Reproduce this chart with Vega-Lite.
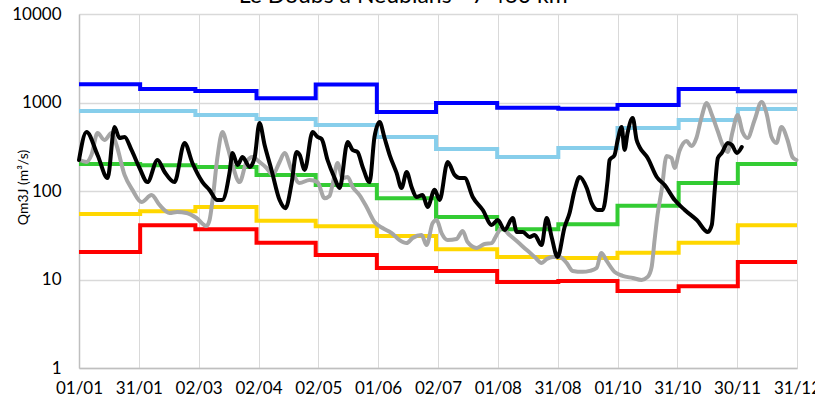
{
  "$schema": "https://vega.github.io/schema/vega-lite/v6.json",
  "width": 718,
  "height": 354,
  "autosize": {"type": "none"},
  "padding": {"left": 79, "top": 14, "right": 18, "bottom": 33},
  "background": "white",
  "title": {"text": "Le Doubs à Neublans - 7 460 km²", "font": "Lato", "fontSize": 23, "fontWeight": "normal", "color": "#000000", "anchor": "middle", "frame": "group", "offset": -21, "baseline": "alphabetic", "dx": -31},
  "config": {"view": {"stroke": null}},
  "datasets": {
    "steps": [
      {"series": "max", "day": 0, "q": 1610}, {"series": "max", "day": 31, "q": 1420}, {"series": "max", "day": 59, "q": 1350}, {"series": "max", "day": 90, "q": 1120}, {"series": "max", "day": 120, "q": 1600}, {"series": "max", "day": 151, "q": 780}, {"series": "max", "day": 181, "q": 990}, {"series": "max", "day": 212, "q": 870}, {"series": "max", "day": 243, "q": 850}, {"series": "max", "day": 273, "q": 940}, {"series": "max", "day": 304, "q": 1420}, {"series": "max", "day": 334, "q": 1340}, {"series": "max", "day": 364, "q": 1340},
      {"series": "q90", "day": 0, "q": 800}, {"series": "q90", "day": 31, "q": 800}, {"series": "q90", "day": 59, "q": 722}, {"series": "q90", "day": 90, "q": 651}, {"series": "q90", "day": 120, "q": 557}, {"series": "q90", "day": 151, "q": 408}, {"series": "q90", "day": 181, "q": 298}, {"series": "q90", "day": 212, "q": 242}, {"series": "q90", "day": 243, "q": 306}, {"series": "q90", "day": 273, "q": 515}, {"series": "q90", "day": 304, "q": 634}, {"series": "q90", "day": 334, "q": 845}, {"series": "q90", "day": 364, "q": 845},
      {"series": "med", "day": 0, "q": 202}, {"series": "med", "day": 31, "q": 196}, {"series": "med", "day": 59, "q": 187}, {"series": "med", "day": 90, "q": 152}, {"series": "med", "day": 120, "q": 117}, {"series": "med", "day": 151, "q": 83}, {"series": "med", "day": 181, "q": 51}, {"series": "med", "day": 212, "q": 37}, {"series": "med", "day": 243, "q": 42}, {"series": "med", "day": 273, "q": 68}, {"series": "med", "day": 304, "q": 123}, {"series": "med", "day": 334, "q": 202}, {"series": "med", "day": 364, "q": 202},
      {"series": "q10", "day": 0, "q": 55}, {"series": "q10", "day": 31, "q": 59}, {"series": "q10", "day": 59, "q": 66}, {"series": "q10", "day": 90, "q": 46}, {"series": "q10", "day": 120, "q": 40}, {"series": "q10", "day": 151, "q": 31}, {"series": "q10", "day": 181, "q": 22}, {"series": "q10", "day": 212, "q": 18}, {"series": "q10", "day": 243, "q": 17.5}, {"series": "q10", "day": 273, "q": 20}, {"series": "q10", "day": 304, "q": 26}, {"series": "q10", "day": 334, "q": 41}, {"series": "q10", "day": 364, "q": 41},
      {"series": "min", "day": 0, "q": 20.5}, {"series": "min", "day": 31, "q": 41}, {"series": "min", "day": 59, "q": 37}, {"series": "min", "day": 90, "q": 26}, {"series": "min", "day": 120, "q": 18.9}, {"series": "min", "day": 151, "q": 13.5}, {"series": "min", "day": 181, "q": 12.5}, {"series": "min", "day": 212, "q": 9.4}, {"series": "min", "day": 243, "q": 9.6}, {"series": "min", "day": 273, "q": 7.4}, {"series": "min", "day": 304, "q": 8.4}, {"series": "min", "day": 334, "q": 15.8}, {"series": "min", "day": 364, "q": 15.8}
    ],
    "gray": [
      {"day": 0.3, "q": 224}, {"day": 3.8, "q": 213}, {"day": 6.3, "q": 255}, {"day": 9.4, "q": 452}, {"day": 12.9, "q": 377}, {"day": 16.5, "q": 452}, {"day": 19, "q": 331}, {"day": 23.1, "q": 152}, {"day": 27.1, "q": 103}, {"day": 31.7, "q": 75}, {"day": 36.8, "q": 90}, {"day": 40.8, "q": 69.5}, {"day": 45.9, "q": 56.4}, {"day": 49.8, "q": 57.9}, {"day": 54.5, "q": 56.4}, {"day": 59.6, "q": 49.5}, {"day": 64.6, "q": 40.2}, {"day": 66.2, "q": 47}, {"day": 67.7, "q": 79}, {"day": 70.2, "q": 242}, {"day": 72.7, "q": 464}, {"day": 75.3, "q": 314}, {"day": 77.8, "q": 197}, {"day": 81.4, "q": 126}, {"day": 84.9, "q": 213}, {"day": 88, "q": 242}, {"day": 91.5, "q": 213}, {"day": 95.1, "q": 182}, {"day": 98.1, "q": 152}, {"day": 101.7, "q": 213}, {"day": 104.2, "q": 269}, {"day": 107.8, "q": 173}, {"day": 111.8, "q": 123}, {"day": 116.9, "q": 133}, {"day": 120.9, "q": 126}, {"day": 124.5, "q": 83}, {"day": 127, "q": 88}, {"day": 128.5, "q": 117}, {"day": 131.1, "q": 207}, {"day": 133.6, "q": 140}, {"day": 136.2, "q": 144}, {"day": 138.7, "q": 111}, {"day": 142.2, "q": 90}, {"day": 145.8, "q": 66}, {"day": 149.8, "q": 44.6}, {"day": 153.9, "q": 38.2}, {"day": 158.5, "q": 33.5}, {"day": 162.5, "q": 27.9}, {"day": 166.1, "q": 25.8}, {"day": 169.1, "q": 29.4}, {"day": 173.7, "q": 31.8}, {"day": 176.2, "q": 24.5}, {"day": 179.3, "q": 43.5}, {"day": 181.3, "q": 47}, {"day": 183.8, "q": 33.5}, {"day": 186.9, "q": 27.9}, {"day": 191.4, "q": 28.7}, {"day": 194.5, "q": 35.3}, {"day": 197, "q": 26.5}, {"day": 201.6, "q": 22.7}, {"day": 205.6, "q": 25.2}, {"day": 209.2, "q": 25.8}, {"day": 211.7, "q": 31.8}, {"day": 214.3, "q": 38.2}, {"day": 218.3, "q": 31.8}, {"day": 221.9, "q": 27.2}, {"day": 227, "q": 21.5}, {"day": 231, "q": 18}, {"day": 234.5, "q": 15.4}, {"day": 237.1, "q": 17}, {"day": 240.1, "q": 18}, {"day": 243.7, "q": 18}, {"day": 247.2, "q": 15.4}, {"day": 250.3, "q": 12.5}, {"day": 255.3, "q": 12.2}, {"day": 258.9, "q": 12.5}, {"day": 262.4, "q": 13.5}, {"day": 264.8, "q": 19.9}, {"day": 267.5, "q": 16.2}, {"day": 271.5, "q": 12.2}, {"day": 275.6, "q": 11}, {"day": 280.7, "q": 10.4}, {"day": 285.2, "q": 9.9}, {"day": 288.3, "q": 10.7}, {"day": 290.3, "q": 13.8}, {"day": 291.8, "q": 27.9}, {"day": 293.3, "q": 53.6}, {"day": 295.4, "q": 103}, {"day": 297.9, "q": 249}, {"day": 300.4, "q": 236}, {"day": 301.9, "q": 182}, {"day": 304.4, "q": 283}, {"day": 308, "q": 367}, {"day": 310.5, "q": 322}, {"day": 313, "q": 397}, {"day": 315.5, "q": 668}, {"day": 318.2, "q": 987}, {"day": 320.7, "q": 741}, {"day": 323.8, "q": 476}, {"day": 326.3, "q": 331}, {"day": 328.8, "q": 276}, {"day": 331.3, "q": 464}, {"day": 333.9, "q": 722}, {"day": 336.4, "q": 464}, {"day": 338.9, "q": 397}, {"day": 342.5, "q": 634}, {"day": 346, "q": 1013}, {"day": 348.5, "q": 761}, {"day": 351.1, "q": 408}, {"day": 353.6, "q": 349}, {"day": 356.1, "q": 529}, {"day": 359.2, "q": 377}, {"day": 361.7, "q": 242}, {"day": 363.7, "q": 224}
    ],
    "black": [
      {"day": 0, "q": 224}, {"day": 3.8, "q": 464}, {"day": 9.4, "q": 255}, {"day": 14.5, "q": 140}, {"day": 18, "q": 529}, {"day": 20.5, "q": 397}, {"day": 23.1, "q": 408}, {"day": 26.6, "q": 291}, {"day": 30.7, "q": 182}, {"day": 34.7, "q": 126}, {"day": 39.8, "q": 224}, {"day": 43.4, "q": 164}, {"day": 48.4, "q": 126}, {"day": 53.5, "q": 349}, {"day": 57.5, "q": 207}, {"day": 62.6, "q": 126}, {"day": 66.1, "q": 103}, {"day": 70.1, "q": 79}, {"day": 72.6, "q": 79}, {"day": 76.3, "q": 160}, {"day": 77.8, "q": 269}, {"day": 80.4, "q": 197}, {"day": 82.9, "q": 242}, {"day": 86.5, "q": 187}, {"day": 89, "q": 236}, {"day": 91.5, "q": 587}, {"day": 94.1, "q": 331}, {"day": 97.6, "q": 173}, {"day": 101.7, "q": 79}, {"day": 104.7, "q": 64}, {"day": 107.8, "q": 123}, {"day": 110.3, "q": 276}, {"day": 111.9, "q": 255}, {"day": 114.4, "q": 173}, {"day": 118.4, "q": 464}, {"day": 120.9, "q": 408}, {"day": 123, "q": 387}, {"day": 126, "q": 224}, {"day": 129.6, "q": 140}, {"day": 132.1, "q": 108}, {"day": 136.2, "q": 358}, {"day": 138.7, "q": 291}, {"day": 141.2, "q": 276}, {"day": 143.8, "q": 187}, {"day": 147.3, "q": 126}, {"day": 149.8, "q": 408}, {"day": 152.4, "q": 602}, {"day": 154.9, "q": 397}, {"day": 157.5, "q": 255}, {"day": 161, "q": 160}, {"day": 163.5, "q": 108}, {"day": 166.1, "q": 164}, {"day": 168.6, "q": 111}, {"day": 171.1, "q": 85.5}, {"day": 174.2, "q": 90}, {"day": 176.7, "q": 66}, {"day": 180.3, "q": 103}, {"day": 182.8, "q": 79}, {"day": 186.9, "q": 213}, {"day": 190.4, "q": 152}, {"day": 193, "q": 140}, {"day": 195.5, "q": 140}, {"day": 199.6, "q": 85.5}, {"day": 204.7, "q": 61}, {"day": 209.2, "q": 41.3}, {"day": 212.3, "q": 47}, {"day": 215.8, "q": 36.2}, {"day": 219.9, "q": 49.5}, {"day": 221.9, "q": 34.4}, {"day": 225, "q": 34.4}, {"day": 228.4, "q": 30.2}, {"day": 231, "q": 31.8}, {"day": 234.5, "q": 24.5}, {"day": 237.1, "q": 49.5}, {"day": 239.6, "q": 30.2}, {"day": 242.6, "q": 18}, {"day": 246.2, "q": 39.2}, {"day": 248.7, "q": 56.4}, {"day": 251.3, "q": 103}, {"day": 253.8, "q": 144}, {"day": 257.4, "q": 108}, {"day": 259.9, "q": 73}, {"day": 262.9, "q": 61}, {"day": 265.5, "q": 61}, {"day": 268, "q": 133}, {"day": 269, "q": 224}, {"day": 271.5, "q": 255}, {"day": 273.1, "q": 377}, {"day": 275.1, "q": 529}, {"day": 276.6, "q": 291}, {"day": 278.1, "q": 452}, {"day": 280.7, "q": 668}, {"day": 282.7, "q": 377}, {"day": 284.2, "q": 314}, {"day": 288.3, "q": 236}, {"day": 292.9, "q": 144}, {"day": 296.9, "q": 117}, {"day": 302, "q": 79}, {"day": 307.1, "q": 61}, {"day": 313.2, "q": 47}, {"day": 318.8, "q": 34.4}, {"day": 320.8, "q": 41.3}, {"day": 322.3, "q": 103}, {"day": 323.9, "q": 236}, {"day": 325.9, "q": 269}, {"day": 328.9, "q": 349}, {"day": 331, "q": 331}, {"day": 333.5, "q": 269}, {"day": 336, "q": 314}
    ]
  },
  "encoding": {
    "x": {
      "field": "day", "type": "quantitative",
      "scale": {"domain": [0, 364], "nice": false, "zero": false},
      "axis": {
        "values": [0, 30.333, 60.667, 91, 121.333, 151.667, 182, 212.333, 242.667, 273, 303.333, 333.667, 364],
        "labelExpr": "timeFormat(datetime(2023, 0, 1 + floor(datum.value)), '%d/%m')",
        "grid": true, "gridColor": "#d9d9d9", "gridWidth": 1,
        "ticks": false, "domainColor": "#bfbfbf", "domainWidth": 1.5,
        "labelFont": "Lato", "labelFontSize": 17, "labelColor": "#000000", "labelPadding": 12,
        "labelFlush": false, "labelOverlap": false, "labelBound": false, "title": null
      }
    },
    "y": {
      "field": "q", "type": "quantitative",
      "scale": {"type": "log", "domain": [1, 10000], "nice": false},
      "axis": {
        "values": [1, 10, 100, 1000, 10000], "format": "d",
        "grid": true, "gridColor": "#d9d9d9", "gridWidth": 1.5,
        "ticks": false, "domainColor": "#bfbfbf", "domainWidth": 1.5,
        "labelFont": "Lato", "labelFontSize": 17, "labelColor": "#000000", "labelPadding": 18,
        "labelFlush": false, "labelOverlap": false,
        "title": "Qm3J (m³/s)", "titleFont": "Lato", "titleFontSize": 14, "titleFontWeight": "normal", "titleColor": "#000000",
        "titleX": -56, "titleY": 173, "titleBaseline": "middle", "titleAngle": -90
      }
    }
  },
  "layer": [
    {
      "data": {"name": "steps"},
      "mark": {"type": "line", "interpolate": "step-after", "strokeWidth": 4},
      "encoding": {
        "color": {"field": "series", "type": "nominal", "legend": null,
          "scale": {"domain": ["max", "q90", "med", "q10", "min"], "range": ["#0000FF", "#87CEEB", "#33CC33", "#FFD700", "#FF0000"]}}
      }
    },
    {
      "data": {"name": "gray"},
      "mark": {"type": "line", "interpolate": "monotone", "strokeWidth": 4, "color": "#A6A6A6", "strokeJoin": "round", "strokeCap": "round"},
      "encoding": {}
    },
    {
      "data": {"name": "black"},
      "mark": {"type": "line", "interpolate": "monotone", "strokeWidth": 4, "color": "#000000", "strokeJoin": "round", "strokeCap": "round"},
      "encoding": {}
    }
  ]
}
